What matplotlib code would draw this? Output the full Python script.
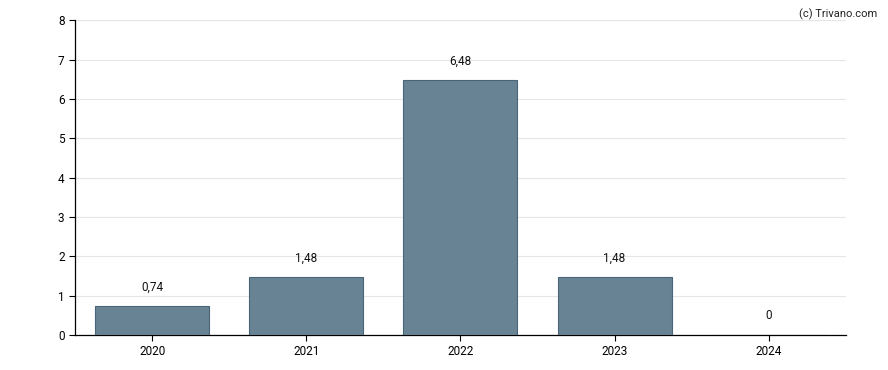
import matplotlib
matplotlib.use("Agg")
import matplotlib.pyplot as plt

# Daten
jahre = ["2020", "2021", "2022", "2023", "2024"]
werte = [0.74, 1.48, 6.48, 1.48, 0]
y_ticks = [0, 1, 2, 3, 4, 5, 6, 7, 8]

plt.rcParams["font.family"] = ["Roboto", "DejaVu Sans"]

fig = plt.figure(figsize=(8.88, 3.7), dpi=100)
ax = fig.add_axes([0.0845, 0.0946, 0.868, 0.85])

pos = list(range(len(jahre)))
ax.bar(pos, werte, width=0.74, color="#678394", edgecolor="#4a6478", linewidth=0.8, zorder=3)

for x, v in zip(pos, werte):
    txt = f"{v:.2f}".replace(".", ",") if v != 0 else "0"
    ax.annotate(txt, (x, v), xytext=(0, 9), textcoords="offset points",
                ha="center", va="bottom", fontsize=8.5, color="#111111")

ax.set_xlim(-0.5, 4.5)
ax.set_ylim(0, 8)
ax.set_xticks(pos)
ax.set_xticklabels(jahre)
ax.set_yticks(y_ticks)
ax.tick_params(axis="both", labelsize=8.5, colors="black", length=4, width=0.8)
ax.grid(axis="y", color="#e6e6e6", linewidth=0.8, zorder=0)

for s in ["top", "right"]:
    ax.spines[s].set_visible(False)
ax.spines["left"].set_linewidth(0.9)
ax.spines["bottom"].set_linewidth(0.9)

fig.text(0.988, 0.978, "(c) Trivano.com", ha="right", va="top", fontsize=8, color="#222222")

fig.savefig("out.png", dpi=100)
